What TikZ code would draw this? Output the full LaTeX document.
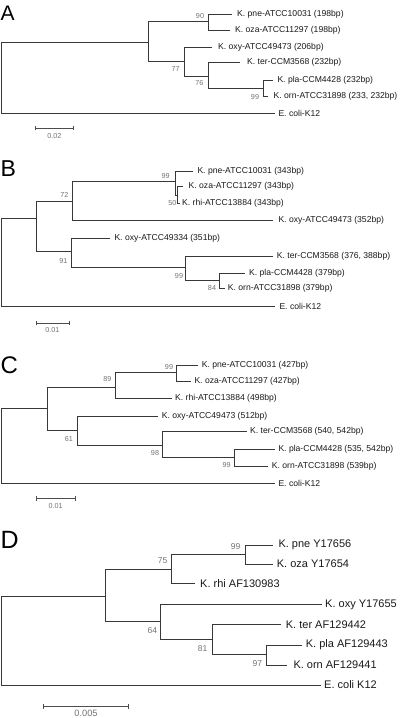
\documentclass[tikz,border=0pt]{standalone}
\usepackage{fontspec}
\setmainfont{Liberation Sans}
\usetikzlibrary{arrows.meta}
\begin{document}
\begin{tikzpicture}[x=1pt,y=-1pt,
  br/.style={draw=black!78, line width=0.75pt},
  sbar/.style={draw=black!70, line width=0.75pt, {Bar[width=4.5pt]}-{Bar[width=4.5pt]}},
  lfA/.style={anchor=west, inner sep=0pt, text=black!90, font=\fontsize{8.6}{10}\selectfont},
  lfD/.style={anchor=west, inner sep=0pt, text=black!90, font=\fontsize{11}{13}\selectfont},
  bsA/.style={inner sep=0pt, text=black!55, font=\fontsize{7.2}{8}\selectfont},
  bsD/.style={inner sep=0pt, text=black!55, font=\fontsize{8.5}{10}\selectfont},
  scA/.style={inner sep=0pt, text=black!55, font=\fontsize{7.2}{8}\selectfont},
  scD/.style={inner sep=0pt, text=black!55, font=\fontsize{9.2}{11}\selectfont},
  panel/.style={anchor=base west, inner sep=0pt, text=black}]
\useasboundingbox (0,0) rectangle (400,718);

% ================= Panel A =================
\node[panel, font=\fontsize{21}{24}\selectfont] (LA) at (0.5,20) {A};
\coordinate (AR) at (1,42.3);
\coordinate (A1) at (148.3,42.3);
\coordinate (A2) at (208.3,21);
\coordinate (A3) at (184,61);
\coordinate (A4) at (208.3,76);
\coordinate (A5) at (263.3,88.3);
\coordinate (Apne) at (232.3,14);
\coordinate (Aoza) at (230,30);
\coordinate (Aoxy) at (212.3,47.7);
\coordinate (Ater) at (240,62.7);
\coordinate (Apla) at (273.3,80);
\coordinate (Aorn) at (268.3,96.7);
\coordinate (Aeco) at (275,113.3);
\draw[br] (AR) |- (A1);
\draw[br] (AR) |- (Aeco);
\draw[br] (A1) |- (A2);
\draw[br] (A1) |- (A3);
\draw[br] (A2) |- (Apne);
\draw[br] (A2) |- (Aoza);
\draw[br] (A3) |- (Aoxy);
\draw[br] (A3) |- (A4);
\draw[br] (A4) |- (Ater);
\draw[br] (A4) |- (A5);
\draw[br] (A5) |- (Apla);
\draw[br] (A5) |- (Aorn);
\node[lfA] (tApne) at (237,14) {K. pne-ATCC10031 (198bp)};
\node[lfA] (tAoza) at (235,30) {K. oza-ATCC11297 (198bp)};
\node[lfA] (tAoxy) at (218,47.7) {K. oxy-ATCC49473 (206bp)};
\node[lfA] (tAter) at (247,62.7) {K. ter-CCM3568 (232bp)};
\node[lfA] (tApla) at (277.3,80) {K. pla-CCM4428 (232bp)};
\node[lfA] (tAorn) at (273.5,96.7) {K. orn-ATCC31898 (233, 232bp)};
\node[lfA] (tAeco) at (278.3,113.3) {E. coli-K12};
\node[bsA] (bA1) at (200,15.7) {90};
\node[bsA] (bA2) at (175.7,69.3) {77};
\node[bsA] (bA3) at (199.3,83.3) {76};
\node[bsA] (bA4) at (255,96.7) {99};
\coordinate (AS1) at (35,128);
\coordinate (AS2) at (73.3,128);
\draw[sbar] (AS1) -- (AS2);
\node[scA] (sA) at (54.3,135.7) {0.02};

% ================= Panel B =================
\node[panel, font=\fontsize{23}{26}\selectfont] (LB) at (0.5,176.7) {B};
\coordinate (BR) at (1,218.3);
\coordinate (B1) at (36.7,218.3);
\coordinate (B2) at (72.7,201.7);
\coordinate (B3) at (175.7,181.7);
\coordinate (B4) at (177.5,195);
\coordinate (B5) at (71.7,251.7);
\coordinate (B6) at (185.7,267.7);
\coordinate (B7) at (219.3,280);
\coordinate (Bpne) at (193.3,171);
\coordinate (Boza) at (183.3,186.7);
\coordinate (Brhi) at (180,203.3);
\coordinate (Boxy) at (273.3,220.7);
\coordinate (Boxy2) at (110,238.3);
\coordinate (Bter) at (273.3,256);
\coordinate (Bpla) at (245,273.3);
\coordinate (Born) at (225,288.3);
\coordinate (Beco) at (275,306);
\draw[br] (BR) |- (B1);
\draw[br] (BR) |- (Beco);
\draw[br] (B1) |- (B2);
\draw[br] (B1) |- (B5);
\draw[br] (B2) |- (B3);
\draw[br] (B2) |- (Boxy);
\draw[br] (B3) |- (Bpne);
\draw[br] (B3) |- (B4);
\draw[br] (B4) |- (Boza);
\draw[br] (B4) |- (Brhi);
\draw[br] (B5) |- (Boxy2);
\draw[br] (B5) |- (B6);
\draw[br] (B6) |- (Bter);
\draw[br] (B6) |- (B7);
\draw[br] (B7) |- (Bpla);
\draw[br] (B7) |- (Born);
\node[lfA] (tBpne) at (197.3,171) {K. pne-ATCC10031 (343bp)};
\node[lfA] (tBoza) at (188.5,186.7) {K. oza-ATCC11297 (343bp)};
\node[lfA] (tBrhi) at (182,203.3) {K. rhi-ATCC13884 (343bp)};
\node[lfA] (tBoxy) at (278.3,220.7) {K. oxy-ATCC49473 (352bp)};
\node[lfA] (tBoxy2) at (114.3,238.3) {K. oxy-ATCC49334 (351bp)};
\node[lfA] (tBter) at (276.7,256) {K. ter-CCM3568 (376, 388bp)};
\node[lfA] (tBpla) at (249,273.3) {K. pla-CCM4428 (379bp)};
\node[lfA] (tBorn) at (227.7,288.3) {K. orn-ATCC31898 (379bp)};
\node[lfA] (tBeco) at (279.3,306) {E. coli-K12};
\node[bsA] (bB1) at (165.7,176) {99};
\node[bsA] (bB2) at (172.3,203.3) {50};
\node[bsA] (bB3) at (64.3,195) {72};
\node[bsA] (bB4) at (63.3,261) {91};
\node[bsA] (bB5) at (179,276) {99};
\node[bsA] (bB6) at (212,288.3) {84};
\coordinate (BS1) at (35.7,323);
\coordinate (BS2) at (70,323);
\draw[sbar] (BS1) -- (BS2);
\node[scA] (sB) at (52.3,329.8) {0.01};

% ================= Panel C =================
\node[panel, font=\fontsize{24}{27}\selectfont] (LC) at (0.5,373) {C};
\coordinate (CR) at (1,408.3);
\coordinate (C1) at (47.7,408.3);
\coordinate (C2) at (115.7,387.7);
\coordinate (C3) at (176,372.7);
\coordinate (C4) at (77.7,430);
\coordinate (C5) at (162.7,445);
\coordinate (C6) at (234.3,457.7);
\coordinate (Cpne) at (198.3,365);
\coordinate (Coza) at (191,381.7);
\coordinate (Crhi) at (171.7,398.3);
\coordinate (Coxy) at (158.3,416);
\coordinate (Cter) at (246.7,431.7);
\coordinate (Cpla) at (275,449.3);
\coordinate (Corn) at (268.3,466);
\coordinate (Ceco) at (275,483.3);
\draw[br] (CR) |- (C1);
\draw[br] (CR) |- (Ceco);
\draw[br] (C1) |- (C2);
\draw[br] (C1) |- (C4);
\draw[br] (C2) |- (C3);
\draw[br] (C2) |- (Crhi);
\draw[br] (C3) |- (Cpne);
\draw[br] (C3) |- (Coza);
\draw[br] (C4) |- (Coxy);
\draw[br] (C4) |- (C5);
\draw[br] (C5) |- (Cter);
\draw[br] (C5) |- (C6);
\draw[br] (C6) |- (Cpla);
\draw[br] (C6) |- (Corn);
\node[lfA] (tCpne) at (201.7,365) {K. pne-ATCC10031 (427bp)};
\node[lfA] (tCoza) at (194.3,381.7) {K. oza-ATCC11297 (427bp)};
\node[lfA] (tCrhi) at (175,398.3) {K. rhi-ATCC13884 (498bp)};
\node[lfA] (tCoxy) at (161.7,416) {K. oxy-ATCC49473 (512bp)};
\node[lfA] (tCter) at (250,431.7) {K. ter-CCM3568 (540, 542bp)};
\node[lfA] (tCpla) at (278.3,449.3) {K. pla-CCM4428 (535, 542bp)};
\node[lfA] (tCorn) at (271.7,466) {K. orn-ATCC31898 (539bp)};
\node[lfA] (tCeco) at (278.3,483.3) {E. coli-K12};
\node[bsA] (bC1) at (169,366.7) {99};
\node[bsA] (bC2) at (107.3,379) {89};
\node[bsA] (bC3) at (69,439) {61};
\node[bsA] (bC4) at (155,452.7) {98};
\node[bsA] (bC5) at (226.7,465) {99};
\coordinate (CS1) at (35.7,498.3);
\coordinate (CS2) at (76,498.3);
\draw[sbar] (CS1) -- (CS2);
\node[scA] (sC) at (55.7,506.3) {0.01};

% ================= Panel D =================
\node[panel, font=\fontsize{25}{28}\selectfont] (LD) at (0.5,548.3) {D};
\coordinate (DR) at (1,596);
\coordinate (D1) at (105,596);
\coordinate (D2) at (171.7,569);
\coordinate (D3) at (245.7,554);
\coordinate (D4) at (160.7,621.7);
\coordinate (D5) at (212.7,639);
\coordinate (D6) at (266.7,654.3);
\coordinate (Dpne) at (273.3,545);
\coordinate (Doza) at (273.3,564);
\coordinate (Drhi) at (195,583.3);
\coordinate (Doxy) at (321.7,604.3);
\coordinate (Dter) at (280.7,624.3);
\coordinate (Dpla) at (301.7,645);
\coordinate (Dorn) at (287.3,665);
\coordinate (Deco) at (320.7,685);
\draw[br] (DR) |- (D1);
\draw[br] (DR) |- (Deco);
\draw[br] (D1) |- (D2);
\draw[br] (D1) |- (D4);
\draw[br] (D2) |- (D3);
\draw[br] (D2) |- (Drhi);
\draw[br] (D3) |- (Dpne);
\draw[br] (D3) |- (Doza);
\draw[br] (D4) |- (Doxy);
\draw[br] (D4) |- (D5);
\draw[br] (D5) |- (Dter);
\draw[br] (D5) |- (D6);
\draw[br] (D6) |- (Dpla);
\draw[br] (D6) |- (Dorn);
\node[lfD] (tDpne) at (278.3,545) {K. pne Y17656};
\node[lfD] (tDoza) at (276.7,564) {K. oza Y17654};
\node[lfD] (tDrhi) at (200,583.3) {K. rhi AF130983};
\node[lfD] (tDoxy) at (325,604.3) {K. oxy Y17655};
\node[lfD] (tDter) at (285.7,624.3) {K. ter AF129442};
\node[lfD] (tDpla) at (305.7,645) {K. pla AF129443};
\node[lfD] (tDorn) at (293.3,665) {K. orn AF129441};
\node[lfD] (tDeco) at (324,685) {E. coli K12};
\node[bsD] (bD1) at (235.7,546.7) {99};
\node[bsD] (bD2) at (162.7,560.7) {75};
\node[bsD] (bD3) at (152.3,630.7) {64};
\node[bsD] (bD4) at (202.7,649) {81};
\node[bsD] (bD5) at (257.3,664) {97};
\coordinate (DS1) at (42.5,706.5);
\coordinate (DS2) at (129,706.5);
\draw[sbar] (DS1) -- (DS2);
\node[scD] (sD) at (86,713) {0.005};
\end{tikzpicture}
\end{document}
